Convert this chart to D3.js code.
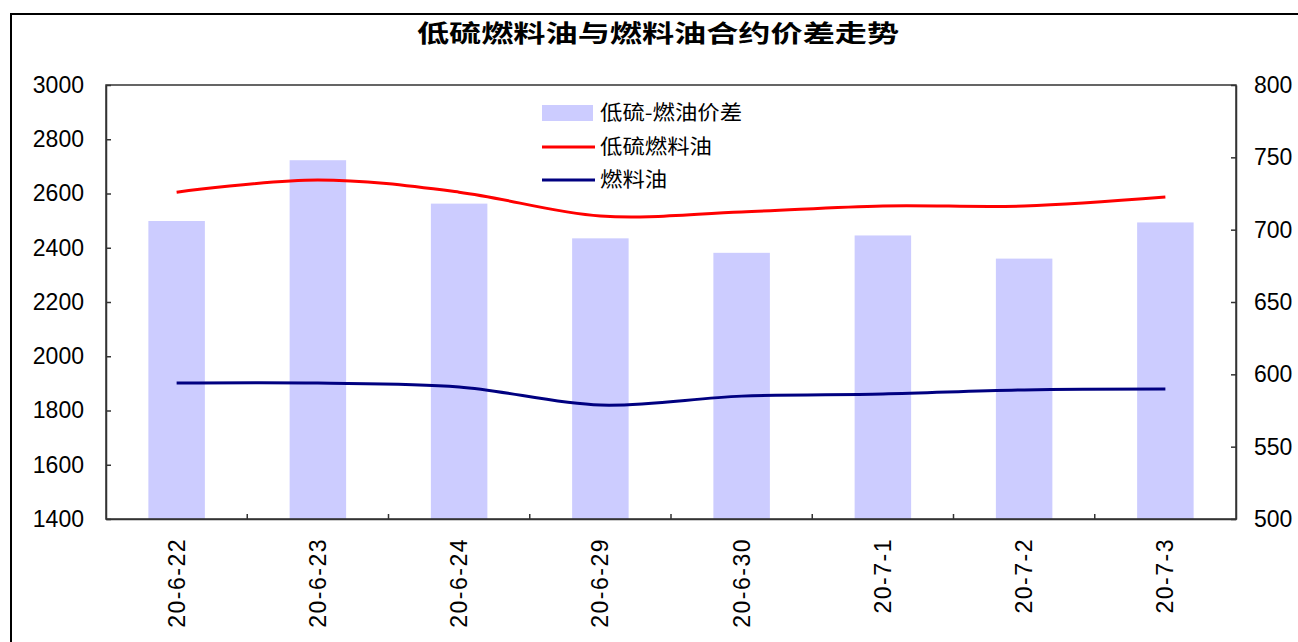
<!DOCTYPE html>
<html>
<head>
<meta charset="utf-8">
<script src="https://cdn.jsdelivr.net/npm/d3@7"></script>
<style>
  html, body { margin: 0; padding: 0; background: #fff; }
  svg { display: block; }
  text { font-family: "Liberation Sans", Arial, sans-serif; fill: #000; }
  .cjk { font-family: "Noto Sans CJK SC", sans-serif; }
</style>
</head>
<body>
<svg id="chart" width="1298" height="642"></svg>
<script>
// Trading dates
const categories = ["20-6-22", "20-6-23", "20-6-24", "20-6-29", "20-6-30", "20-7-1", "20-7-2", "20-7-3"];
// Spread between low-sulphur and fuel oil contracts (right axis)
const spread = [706, 748, 718, 694, 684, 696, 680, 705];
// Low-sulphur fuel oil price (left axis)
const lowSulphur = [2605, 2650, 2605, 2517, 2532, 2554, 2554, 2587];
// Fuel oil price (left axis)
const fuelOil = [1901, 1901, 1887, 1820, 1853, 1861, 1876, 1879];
// Axis ticks
const leftTicks = [1400, 1600, 1800, 2000, 2200, 2400, 2600, 2800, 3000];
const rightTicks = [500, 550, 600, 650, 700, 750, 800];

const svg = d3.select("#chart");
const plot = { left: 106, right: 1236, top: 85, bottom: 519 };

// Outer frame
svg.append("rect")
  .attr("x", 11).attr("y", 14)
  .attr("width", 1300).attr("height", 650)
  .attr("fill", "none").attr("stroke", "#000").attr("stroke-width", 2);

// Title
svg.append("text")
  .attr("class", "cjk")
  .attr("transform", "translate(658,42) scale(1.34,1)")
  .attr("text-anchor", "middle")
  .attr("font-size", 24)
  .attr("font-weight", "bold")
  .text("低硫燃料油与燃料油合约价差走势");

const x = d3.scaleBand().domain(categories).range([plot.left, plot.right]);
const yL = d3.scaleLinear().domain([1400, 3000]).range([plot.bottom, plot.top]);
const yR = d3.scaleLinear().domain([500, 800]).range([plot.bottom, plot.top]);

// Bars: spread
const barW = x.bandwidth() * 0.4;
svg.append("g").selectAll("rect")
  .data(categories)
  .join("rect")
  .attr("x", d => x(d) + (x.bandwidth() - barW) / 2)
  .attr("y", (d, i) => yR(spread[i]))
  .attr("width", barW)
  .attr("height", (d, i) => yR(500) - yR(spread[i]))
  .attr("fill", "#CCCCFF");

// Plot area border
svg.append("rect")
  .attr("x", plot.left).attr("y", plot.top)
  .attr("width", plot.right - plot.left).attr("height", plot.bottom - plot.top)
  .attr("fill", "none").attr("stroke", "#333").attr("stroke-width", 1.5);

// Left axis
const axL = d3.axisLeft(yL).tickValues(leftTicks).tickFormat(d3.format("d"))
  .tickSizeInner(-5).tickSizeOuter(0).tickPadding(22);
const gL = svg.append("g").attr("transform", `translate(${plot.left},0)`).call(axL);
// Right axis
const axR = d3.axisRight(yR).tickValues(rightTicks).tickFormat(d3.format("d"))
  .tickSizeInner(-5).tickSizeOuter(0).tickPadding(18);
const gR = svg.append("g").attr("transform", `translate(${plot.right},0)`).call(axR);
// Bottom axis: labels at category centres, ticks at category boundaries
const axB = d3.axisBottom(x).tickSize(0).tickPadding(0);
const gB = svg.append("g").attr("transform", `translate(0,${plot.bottom})`).call(axB);
gB.selectAll(".tick text")
  .attr("transform", "rotate(-90)")
  .attr("text-anchor", "end")
  .attr("x", -19).attr("y", 0).attr("dy", "0.35em")
  .attr("letter-spacing", 1.5);
svg.append("g").selectAll("line")
  .data(categories.slice(1))
  .join("line")
  .attr("x1", d => x(d)).attr("x2", d => x(d))
  .attr("y1", plot.bottom).attr("y2", plot.bottom - 5)
  .attr("stroke", "#333").attr("stroke-width", 1.5);

[gL, gR, gB].forEach(g => {
  g.select(".domain").attr("stroke", "#333").attr("stroke-width", 1.5);
  g.selectAll(".tick line").attr("stroke", "#333").attr("stroke-width", 1.5);
  g.selectAll(".tick text")
    .attr("font-size", 23)
    .attr("font-family", "'Liberation Sans', Arial, sans-serif")
    .attr("fill", "#111");
});

// Lines
const cx = d => x(d) + x.bandwidth() / 2;
const lineL = vals => d3.line()
  .x((d, i) => cx(categories[i]))
  .y(d => yL(d))
  .curve(d3.curveCatmullRom.alpha(0.5))(vals);

svg.append("path").attr("d", lineL(lowSulphur))
  .attr("fill", "none").attr("stroke", "#FF0000").attr("stroke-width", 3);
svg.append("path").attr("d", lineL(fuelOil))
  .attr("fill", "none").attr("stroke", "#000080").attr("stroke-width", 3);

// Legend
const legend = svg.append("g");
legend.append("rect")
  .attr("x", 542).attr("y", 105).attr("width", 51).attr("height", 16)
  .attr("fill", "#CCCCFF");
legend.append("line")
  .attr("x1", 542).attr("x2", 595).attr("y1", 147).attr("y2", 147)
  .attr("stroke", "#FF0000").attr("stroke-width", 3);
legend.append("line")
  .attr("x1", 542).attr("x2", 595).attr("y1", 180).attr("y2", 180)
  .attr("stroke", "#000080").attr("stroke-width", 3);
const legendItems = ["低硫-燃油价差", "低硫燃料油", "燃料油"];
const legendY = [113, 147, 180];
legend.selectAll("text.lg")
  .data(legendItems)
  .join("text")
  .attr("class", "lg cjk")
  .attr("transform", (d, i) => `translate(600,${legendY[i]}) scale(1.12,1)`)
  .attr("dy", "0.36em")
  .attr("font-size", 20)
  .text(d => d);
</script>
</body>
</html>
